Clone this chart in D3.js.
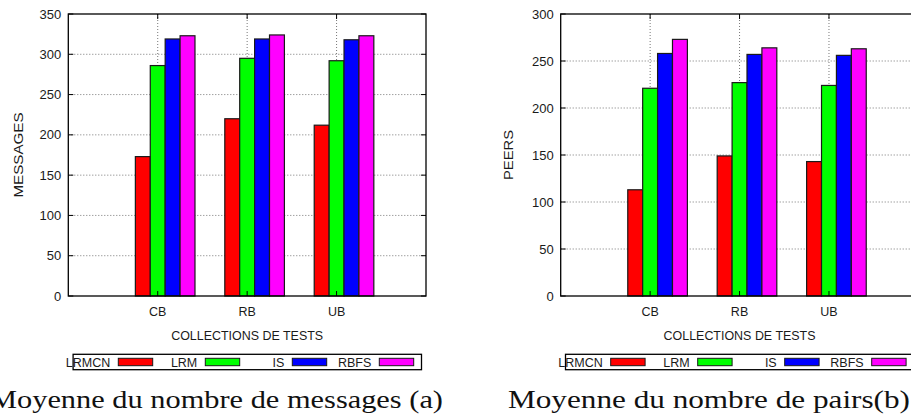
<!DOCTYPE html>
<html>
<head>
<meta charset="utf-8">
<script src="https://cdn.jsdelivr.net/npm/d3@7"></script>
<style>
  html, body { margin: 0; padding: 0; background: #fff; }
  svg { display: block; }
  .sans { font-family: "Liberation Sans", Arial, Helvetica, sans-serif; fill: #1a1a1a; }
  .serif { font-family: "Liberation Serif", "DejaVu Serif", serif; fill: #111; }
</style>
</head>
<body>
<svg id="chart" width="911" height="418"></svg>
<script>
// ---- data ----
const categories = ["CB", "RB", "UB"];
const seriesNames = ["LRMCN", "LRM", "IS", "RBFS"];
const seriesColors = ["#ff0000", "#00ff00", "#0000ff", "#ff00ff"];

const messagesLRMCN = [173, 220, 212];
const messagesLRM   = [286, 295, 292];
const messagesIS    = [319, 319, 318];
const messagesRBFS  = [323, 324, 323];
const messagesTicks = [0, 50, 100, 150, 200, 250, 300, 350];

const peersLRMCN = [113, 149, 143];
const peersLRM   = [221, 227, 224];
const peersIS    = [258, 257, 256];
const peersRBFS  = [273, 264, 263];
const peersTicks = [0, 50, 100, 150, 200, 250, 300];

const panels = [
  {
    yTitle: "MESSAGES", xTitle: "COLLECTIONS DE TESTS",
    caption: "Moyenne du nombre de messages (a)",
    series: [messagesLRMCN, messagesLRM, messagesIS, messagesRBFS],
    ticks: messagesTicks,
    left: 68.3, top: 14, width: 357.7, height: 282,
    yTitleX: 23, yTitleLen: 85, legendW: 348.4,
    capX: -10, capW: 453
  },
  {
    yTitle: "PEERS", xTitle: "COLLECTIONS DE TESTS",
    caption: "Moyenne du nombre de pairs(b)",
    series: [peersLRMCN, peersLRM, peersIS, peersRBFS],
    ticks: peersTicks,
    left: 560.7, top: 14, width: 357.7, height: 282,
    yTitleX: 513, yTitleLen: 50, legendW: 348.4,
    capX: 508, capW: 402
  }
];

const svg = d3.select("#chart");

panels.forEach(p => {
  const g = svg.append("g");
  const x = d3.scaleLinear().domain([-1, 3]).range([p.left, p.left + p.width]);
  const yMax = p.ticks[p.ticks.length - 1];
  const y = d3.scaleLinear().domain([0, yMax]).range([p.top + p.height, p.top]);
  const x0 = p.left, x1 = p.left + p.width, y0 = p.top + p.height, y1 = p.top;

  // horizontal grid (dotted)
  g.selectAll(".hgrid").data(p.ticks.filter(t => t > 0 && t < yMax)).enter()
    .append("line")
    .attr("x1", x0).attr("x2", x1)
    .attr("y1", d => y(d)).attr("y2", d => y(d))
    .attr("stroke", "#777").attr("stroke-width", 1)
    .attr("stroke-dasharray", "1,2");

  // vertical grid (dotted)
  g.selectAll(".vgrid").data(categories).enter()
    .append("line")
    .attr("x1", (d, i) => x(i)).attr("x2", (d, i) => x(i))
    .attr("y1", y1).attr("y2", y0)
    .attr("stroke", "#777").attr("stroke-width", 1)
    .attr("stroke-dasharray", "1,2");

  // bars
  const bw = x(1 / 6) - x(0);
  p.series.forEach((vals, j) => {
    g.selectAll(".bar" + j).data(vals).enter()
      .append("rect")
      .attr("x", (d, i) => x(i - 0.25 + j / 6))
      .attr("width", bw)
      .attr("y", d => y(d))
      .attr("height", d => y(0) - y(d))
      .attr("fill", seriesColors[j])
      .attr("stroke", "#1a1a1a")
      .attr("stroke-width", 1.2);
  });

  // ticks (inward, mirrored)
  p.ticks.forEach(t => {
    g.append("line").attr("x1", x0).attr("x2", x0 + 5).attr("y1", y(t)).attr("y2", y(t)).attr("stroke", "#000");
    g.append("line").attr("x1", x1).attr("x2", x1 - 5).attr("y1", y(t)).attr("y2", y(t)).attr("stroke", "#000");
  });
  categories.forEach((c, i) => {
    g.append("line").attr("x1", x(i)).attr("x2", x(i)).attr("y1", y0).attr("y2", y0 - 5).attr("stroke", "#000");
    g.append("line").attr("x1", x(i)).attr("x2", x(i)).attr("y1", y1).attr("y2", y1 + 5).attr("stroke", "#000");
  });

  // frame
  g.append("rect").attr("x", x0).attr("y", y1).attr("width", p.width).attr("height", p.height)
    .attr("fill", "none").attr("stroke", "#000").attr("stroke-width", 1.3);

  // y tick labels
  g.selectAll(".ylab").data(p.ticks).enter()
    .append("text").attr("class", "sans")
    .attr("x", x0 - 7).attr("y", d => y(d) + 4.6)
    .attr("text-anchor", "end").attr("font-size", 13)
    .text(d => d);

  // x tick labels
  g.selectAll(".xlab").data(categories).enter()
    .append("text").attr("class", "sans")
    .attr("x", (d, i) => x(i)).attr("y", 316)
    .attr("text-anchor", "middle").attr("font-size", 12.5)
    .text(d => d);

  // x title
  g.append("text").attr("class", "sans")
    .attr("x", (x0 + x1) / 2).attr("y", 340)
    .attr("text-anchor", "middle").attr("font-size", 12.5)
    .attr("textLength", 152).attr("lengthAdjust", "spacingAndGlyphs")
    .text(p.xTitle);

  // y title
  g.append("text").attr("class", "sans")
    .attr("transform", `translate(${p.yTitleX},${(y0 + y1) / 2}) rotate(-90)`)
    .attr("text-anchor", "middle").attr("font-size", 13.5)
    .attr("textLength", p.yTitleLen).attr("lengthAdjust", "spacingAndGlyphs")
    .text(p.yTitle);

  // legend
  const lx = x0 + 4.8, ly = 354.3, lh = 15.4;
  g.append("rect").attr("x", lx).attr("y", ly).attr("width", p.legendW).attr("height", lh)
    .attr("fill", "none").attr("stroke", "#000").attr("stroke-width", 1.3);
  seriesNames.forEach((name, j) => {
    const sx = lx + 45.2 + j * 87;
    g.append("rect").attr("x", sx).attr("y", 358.3).attr("width", 34.4).attr("height", 7.4)
      .attr("fill", seriesColors[j]).attr("stroke", "#1a1a1a").attr("stroke-width", 1);
    g.append("text").attr("class", "sans")
      .attr("x", sx - 8).attr("y", 366.5)
      .attr("text-anchor", "end").attr("font-size", 12.5)
      .text(name);
  });

  // caption
  svg.append("text").attr("class", "serif")
    .attr("x", p.capX).attr("y", 407.5)
    .attr("font-size", 25)
    .attr("textLength", p.capW).attr("lengthAdjust", "spacingAndGlyphs")
    .text(p.caption);
});
</script>
</body>
</html>
